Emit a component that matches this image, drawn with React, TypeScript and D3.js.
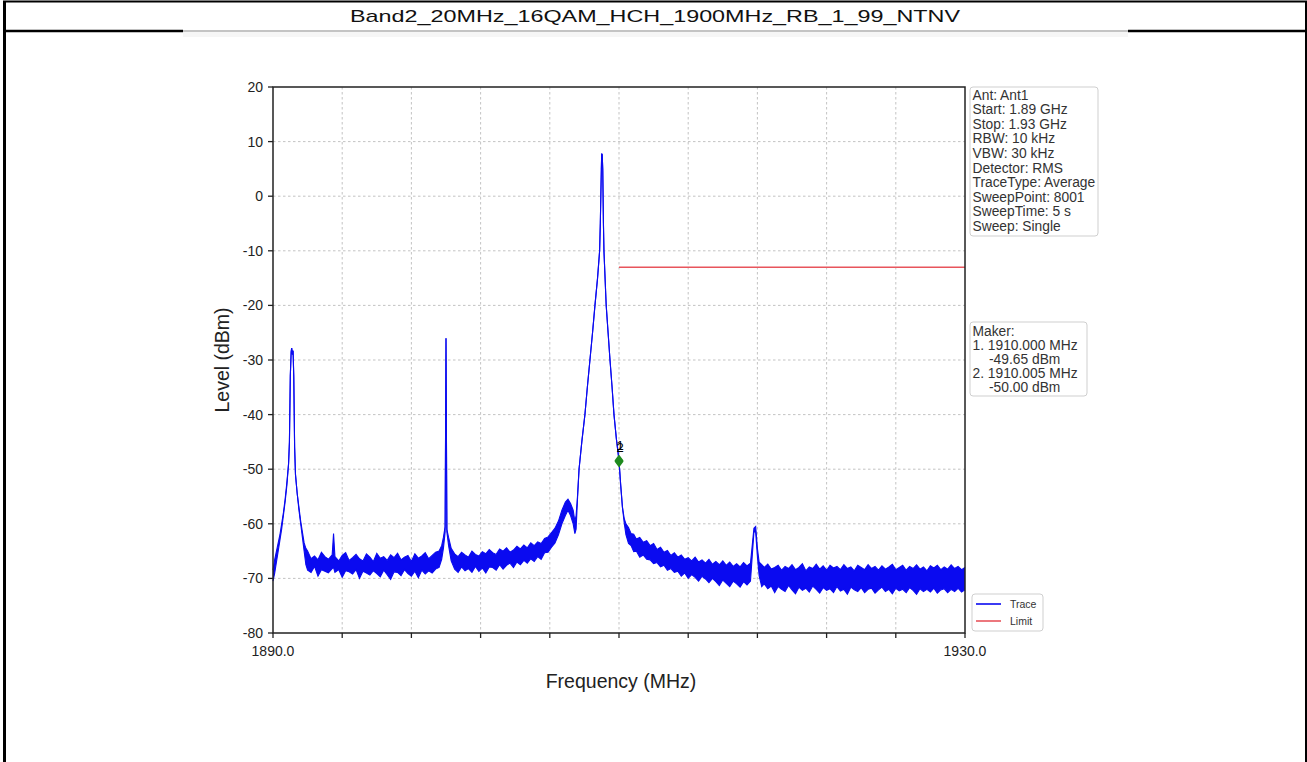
import React from "react";
import * as d3 from "d3";

const TITLE = "Band2_20MHz_16QAM_HCH_1900MHz_RB_1_99_NTNV";
const X_LABEL = "Frequency (MHz)";
const Y_LABEL = "Level (dBm)";
const X_DOMAIN = [1890, 1930];
const Y_DOMAIN = [-80, 20];
const X_GRID = [1890, 1894, 1898, 1902, 1906, 1910, 1914, 1918, 1922, 1926, 1930];
const X_TICK_LABELS = [
  { f: 1890, text: "1890.0" },
  { f: 1930, text: "1930.0" },
];
const Y_TICKS = [20, 10, 0, -10, -20, -30, -40, -50, -60, -70, -80];

const INFO_LINES = [
  "Ant: Ant1",
  "Start: 1.89 GHz",
  "Stop: 1.93 GHz",
  "RBW: 10 kHz",
  "VBW: 30 kHz",
  "Detector: RMS",
  "TraceType: Average",
  "SweepPoint: 8001",
  "SweepTime: 5 s",
  "Sweep: Single",
];
const MARKER_LINES = [
  { text: "Maker:", indent: false },
  { text: "1. 1910.000 MHz", indent: false },
  { text: "-49.65 dBm", indent: true },
  { text: "2. 1910.005 MHz", indent: false },
  { text: "-50.00 dBm", indent: true },
];

// limit line [freq, level]
const LIMIT: [number, number][] = [
  [1910, -13],
  [1930, -13],
];

const MARKERS = [
  { label: "1", f: 1910.0, level: -48.4 },
  { label: "2", f: 1910.005, level: -48.6 },
];

// trace envelope [freq MHz, upper dBm, lower dBm]
const TRACE: [number, number, number][] = [
  [1890.0, -68.5, -70.5],
  [1890.1, -66.5, -69.0],
  [1890.2, -65.0, -67.0],
  [1890.3, -63.5, -65.0],
  [1890.4, -62.0, -63.0],
  [1890.5, -60.0, -61.0],
  [1890.6, -58.0, -58.5],
  [1890.7, -55.5, -56.0],
  [1890.8, -52.5, -53.0],
  [1890.9, -49.0, -49.0],
  [1890.95, -45.0, -45.0],
  [1891.0, -33.0, -33.0],
  [1891.05, -28.5, -28.5],
  [1891.08, -27.8, -27.8],
  [1891.12, -29.0, -29.0],
  [1891.16, -28.3, -28.3],
  [1891.2, -33.0, -33.0],
  [1891.25, -46.0, -46.0],
  [1891.3, -51.0, -51.0],
  [1891.4, -54.5, -54.5],
  [1891.5, -57.0, -57.5],
  [1891.6, -59.5, -60.0],
  [1891.7, -61.5, -62.5],
  [1891.8, -63.5, -65.0],
  [1891.9, -64.5, -67.5],
  [1892.0, -65.0, -68.5],
  [1892.2, -66.4, -68.9],
  [1892.4, -65.9, -67.8],
  [1892.6, -66.6, -69.6],
  [1892.8, -65.2, -68.4],
  [1893.0, -66.0, -68.7],
  [1893.2, -66.5, -69.0],
  [1893.42, -65.7, -68.2],
  [1893.5, -61.8, -68.0],
  [1893.58, -66.0, -68.9],
  [1893.8, -66.8, -68.4],
  [1894.0, -65.8, -69.8],
  [1894.2, -65.3, -68.6],
  [1894.4, -66.7, -68.8],
  [1894.6, -66.2, -69.2],
  [1894.8, -65.6, -68.4],
  [1895.0, -66.4, -70.0],
  [1895.2, -66.8, -68.7],
  [1895.4, -65.5, -69.0],
  [1895.6, -66.1, -69.4],
  [1895.8, -66.9, -68.6],
  [1896.0, -65.4, -69.1],
  [1896.2, -66.3, -69.7],
  [1896.4, -66.0, -68.5],
  [1896.6, -66.7, -69.3],
  [1896.8, -65.7, -70.2],
  [1897.0, -66.2, -68.8],
  [1897.2, -65.4, -68.9],
  [1897.4, -66.6, -69.5],
  [1897.6, -66.1, -68.4],
  [1897.8, -65.8, -69.1],
  [1898.0, -66.9, -69.6],
  [1898.2, -65.5, -68.7],
  [1898.4, -66.3, -69.9],
  [1898.6, -65.9, -68.5],
  [1898.8, -65.3, -69.2],
  [1899.0, -66.4, -68.6],
  [1899.2, -65.8, -69.0],
  [1899.4, -65.2, -68.3],
  [1899.6, -65.0, -68.0],
  [1899.75, -64.0, -66.5],
  [1899.85, -62.5, -64.5],
  [1899.95, -60.5, -61.5],
  [1900.0, -26.0, -26.0],
  [1900.05, -61.0, -61.5],
  [1900.15, -62.5, -64.0],
  [1900.3, -64.5, -66.8],
  [1900.5, -65.5, -68.3],
  [1900.7, -66.0, -68.9],
  [1900.9, -65.2, -67.9],
  [1901.1, -65.7, -68.6],
  [1901.3, -66.1, -68.2],
  [1901.5, -65.0, -68.9],
  [1901.7, -65.6, -67.8],
  [1901.9, -65.9, -68.7],
  [1902.1, -65.1, -68.1],
  [1902.3, -65.5, -69.0],
  [1902.5, -64.7, -67.9],
  [1902.7, -65.3, -68.0],
  [1902.9, -65.6, -68.5],
  [1903.1, -64.6, -67.5],
  [1903.3, -65.0, -68.3],
  [1903.5, -64.4, -67.6],
  [1903.7, -65.2, -67.2],
  [1903.9, -64.8, -68.0],
  [1904.1, -64.1, -67.0],
  [1904.3, -64.6, -67.5],
  [1904.5, -63.9, -66.7],
  [1904.7, -64.4, -67.2],
  [1904.9, -63.5, -66.4],
  [1905.1, -64.0, -66.9],
  [1905.3, -63.3, -66.0],
  [1905.5, -63.6, -66.5],
  [1905.7, -62.7, -65.3],
  [1905.9, -62.4, -65.2],
  [1906.1, -61.6, -64.3],
  [1906.3, -60.8, -63.5],
  [1906.5, -59.5, -62.0],
  [1906.7, -57.5, -60.0],
  [1906.9, -56.0, -58.5],
  [1907.05, -55.5, -57.5],
  [1907.2, -56.3, -58.5],
  [1907.35, -57.5, -60.0],
  [1907.45, -59.5, -61.8],
  [1907.52, -58.5, -61.0],
  [1907.6, -55.0, -55.5],
  [1907.69, -50.0, -50.0],
  [1907.85, -45.0, -45.0],
  [1908.03, -40.0, -40.0],
  [1908.17, -35.0, -35.0],
  [1908.32, -30.0, -30.0],
  [1908.47, -25.0, -25.0],
  [1908.61, -20.0, -20.0],
  [1908.76, -15.0, -15.0],
  [1908.88, -10.0, -10.0],
  [1908.92, -5.0, -5.0],
  [1908.95, 0.0, 0.0],
  [1908.98, 5.0, 5.0],
  [1909.0, 7.8, 7.8],
  [1909.03, 7.6, 7.6],
  [1909.06, 5.0, 5.0],
  [1909.08, 0.0, 0.0],
  [1909.1, -5.0, -5.0],
  [1909.13, -10.0, -10.0],
  [1909.26, -20.0, -20.0],
  [1909.37, -25.0, -25.0],
  [1909.48, -30.0, -30.0],
  [1909.6, -35.0, -35.0],
  [1909.71, -40.0, -40.0],
  [1909.85, -44.5, -44.5],
  [1910.0, -48.4, -48.4],
  [1910.1, -53.0, -53.0],
  [1910.2, -57.0, -57.0],
  [1910.3, -59.0, -59.8],
  [1910.4, -60.0, -62.0],
  [1910.55, -60.7, -63.6],
  [1910.7, -61.8, -64.0],
  [1910.85, -61.9, -65.1],
  [1911.0, -62.8, -65.0],
  [1911.2, -62.5, -66.1],
  [1911.4, -63.4, -65.7],
  [1911.6, -63.1, -66.5],
  [1911.8, -64.0, -66.6],
  [1912.0, -63.6, -67.3],
  [1912.2, -64.7, -67.1],
  [1912.4, -64.3, -67.9],
  [1912.6, -65.2, -67.6],
  [1912.8, -64.9, -68.5],
  [1913.0, -65.8, -68.2],
  [1913.2, -65.3, -68.9],
  [1913.4, -66.1, -68.7],
  [1913.6, -65.7, -69.6],
  [1913.8, -66.5, -69.0],
  [1914.0, -66.2, -70.0],
  [1914.2, -66.8, -69.3],
  [1914.4, -66.1, -69.8],
  [1914.6, -67.0, -70.5],
  [1914.8, -66.6, -69.6],
  [1915.0, -67.2, -70.1],
  [1915.2, -66.5, -70.8],
  [1915.4, -67.4, -70.0],
  [1915.6, -66.9, -70.6],
  [1915.8, -67.5, -71.3],
  [1916.0, -66.8, -70.3],
  [1916.2, -67.6, -70.9],
  [1916.4, -67.0, -71.5],
  [1916.6, -67.8, -70.5],
  [1916.8, -67.3, -71.0],
  [1917.0, -67.9, -71.6],
  [1917.2, -67.1, -70.6],
  [1917.4, -67.7, -71.2],
  [1917.6, -67.2, -70.5],
  [1917.7, -64.0, -66.0],
  [1917.8, -60.8, -61.5],
  [1917.9, -60.5, -61.5],
  [1918.0, -64.5, -66.0],
  [1918.1, -67.0, -69.5],
  [1918.25, -67.5, -71.5],
  [1918.4, -68.0, -71.0],
  [1918.6, -67.4, -71.9],
  [1918.8, -68.3, -71.4],
  [1919.0, -68.0, -72.6],
  [1919.2, -67.6, -71.5],
  [1919.4, -68.5, -72.0],
  [1919.6, -67.8, -72.4],
  [1919.8, -68.2, -71.3],
  [1920.0, -67.5, -72.1],
  [1920.2, -68.4, -72.8],
  [1920.4, -68.0, -71.6],
  [1920.6, -67.3, -72.2],
  [1920.8, -68.6, -71.8],
  [1921.0, -67.9, -72.5],
  [1921.2, -68.2, -71.4],
  [1921.4, -67.4, -72.0],
  [1921.6, -68.3, -72.7],
  [1921.8, -67.7, -71.7],
  [1922.0, -68.5, -72.2],
  [1922.2, -67.6, -71.9],
  [1922.4, -68.1, -72.6],
  [1922.6, -67.8, -71.5],
  [1922.8, -68.4, -72.3],
  [1923.0, -67.5, -72.0],
  [1923.2, -68.2, -72.9],
  [1923.4, -67.9, -71.6],
  [1923.6, -68.6, -72.1],
  [1923.8, -67.6, -72.4],
  [1924.0, -68.0, -71.7],
  [1924.2, -68.4, -72.6],
  [1924.4, -67.5, -72.0],
  [1924.6, -68.2, -71.8],
  [1924.8, -67.8, -72.7],
  [1925.0, -68.5, -72.1],
  [1925.2, -67.7, -71.6],
  [1925.4, -68.3, -72.4],
  [1925.6, -67.9, -72.0],
  [1925.8, -67.4, -72.8],
  [1926.0, -68.4, -71.8],
  [1926.2, -68.0, -72.3],
  [1926.4, -67.6, -72.0],
  [1926.6, -68.5, -72.6],
  [1926.8, -67.8, -71.7],
  [1927.0, -68.2, -72.2],
  [1927.2, -67.5, -72.9],
  [1927.4, -68.3, -71.9],
  [1927.6, -67.9, -72.4],
  [1927.8, -68.6, -72.0],
  [1928.0, -67.7, -72.5],
  [1928.2, -68.1, -71.8],
  [1928.4, -67.6, -72.7],
  [1928.6, -68.4, -72.1],
  [1928.8, -67.9, -71.9],
  [1929.0, -68.3, -72.6],
  [1929.2, -67.5, -72.0],
  [1929.4, -68.2, -72.4],
  [1929.6, -67.8, -71.8],
  [1929.8, -68.4, -72.5],
  [1930.0, -68.0, -72.1],
];

const W = 1307;
const H = 762;
const PLOT = { left: 273, right: 965, top: 87, bottom: 633 };
const FONT = "'Liberation Sans', Arial, Helvetica, sans-serif";
const TRACE_COLOR = "#0a0af0";
const LIMIT_COLOR = "#e8555c";

export default function App() {
  const x = d3.scaleLinear().domain(X_DOMAIN).range([PLOT.left, PLOT.right]);
  const y = d3.scaleLinear().domain(Y_DOMAIN).range([PLOT.bottom, PLOT.top]);

  const area = d3
    .area<[number, number, number]>()
    .x((d) => x(d[0]))
    .y0((d) => y(d[2]))
    .y1((d) => y(d[1]));
  const upper = d3
    .line<[number, number, number]>()
    .x((d) => x(d[0]))
    .y((d) => y(d[1]));
  const lower = d3
    .line<[number, number, number]>()
    .x((d) => x(d[0]))
    .y((d) => y(d[2]));
  const limitLine = d3
    .line<[number, number]>()
    .x((d) => x(d[0]))
    .y((d) => y(d[1]));

  const infoStep = 14.6;
  const markerStep = 14;

  return (
    <svg
      width={W}
      height={H}
      style={{ position: "absolute", left: 0, top: 0, background: "#fff" }}
      fontFamily={FONT}
    >
      <rect x={0} y={0} width={W} height={H} fill="#fff" />
      {/* frame */}
      <line x1={4.5} y1={1} x2={4.5} y2={H} stroke="#000" strokeWidth={3} />
      <line x1={1306} y1={1} x2={1306} y2={H} stroke="#000" strokeWidth={2} />
      <line x1={3} y1={1.5} x2={W} y2={1.5} stroke="#000" strokeWidth={2} />
      <rect x={183} y={32} width={945} height={5} fill="#f6f6f6" />
      <line x1={3} y1={31} x2={183} y2={31} stroke="#000" strokeWidth={2.5} />
      <line x1={183} y1={31} x2={1128} y2={31} stroke="#8a8a8a" strokeWidth={1.2} />
      <line x1={1128} y1={31} x2={W} y2={31} stroke="#000" strokeWidth={2.5} />
      <text
        x={655}
        y={22}
        fontSize={17}
        textAnchor="middle"
        textLength={610}
        lengthAdjust="spacingAndGlyphs"
        fill="#111"
      >
        {TITLE}
      </text>

      {/* grid */}
      {X_GRID.filter((f) => f !== X_DOMAIN[0] && f !== X_DOMAIN[1]).map((f) => (
        <line
          key={"gx" + f}
          x1={x(f)}
          x2={x(f)}
          y1={PLOT.top}
          y2={PLOT.bottom}
          stroke="#b4b4b4"
          strokeWidth={0.8}
          strokeDasharray="2.5,2.5"
        />
      ))}
      {Y_TICKS.filter((v) => v !== Y_DOMAIN[0] && v !== Y_DOMAIN[1]).map((v) => (
        <line
          key={"gy" + v}
          x1={PLOT.left}
          x2={PLOT.right}
          y1={y(v)}
          y2={y(v)}
          stroke="#b4b4b4"
          strokeWidth={0.8}
          strokeDasharray="2.5,2.5"
        />
      ))}

      {/* trace */}
      <path d={area(TRACE) || ""} fill={TRACE_COLOR} stroke="none" />
      <path d={upper(TRACE) || ""} fill="none" stroke={TRACE_COLOR} strokeWidth={1.1} />
      <path d={lower(TRACE) || ""} fill="none" stroke={TRACE_COLOR} strokeWidth={1.1} />

      {/* limit */}
      <path d={limitLine(LIMIT) || ""} fill="none" stroke={LIMIT_COLOR} strokeWidth={1.6} />

      {/* markers */}
      {MARKERS.map((m) => (
        <g key={"m" + m.label}>
          <path
            d={`M${x(m.f)},${y(m.level) - 6} L${x(m.f) + 4.5},${y(m.level)} L${x(m.f)},${y(m.level) + 6} L${x(m.f) - 4.5},${y(m.level)} Z`}
            fill="#1f8a1f"
          />
          <text
            x={x(m.f) + 1}
            y={y(m.level) - 10}
            fontSize={13}
            textAnchor="middle"
            fill="#000"
          >
            {m.label}
          </text>
        </g>
      ))}

      {/* spines */}
      <rect
        x={PLOT.left}
        y={PLOT.top}
        width={PLOT.right - PLOT.left}
        height={PLOT.bottom - PLOT.top}
        fill="none"
        stroke="#222"
        strokeWidth={1.5}
      />

      {/* y ticks */}
      {Y_TICKS.map((v) => (
        <g key={"yt" + v}>
          <line x1={PLOT.left - 5} x2={PLOT.left} y1={y(v)} y2={y(v)} stroke="#222" strokeWidth={1.3} />
          <text x={PLOT.left - 10} y={y(v) + 5} fontSize={14} textAnchor="end" fill="#222">
            {v}
          </text>
        </g>
      ))}
      {/* x ticks */}
      {X_GRID.map((f) => (
        <line key={"xt" + f} x1={x(f)} x2={x(f)} y1={PLOT.bottom} y2={PLOT.bottom + 5} stroke="#222" strokeWidth={1.3} />
      ))}
      {X_TICK_LABELS.map((t) => (
        <text key={"xl" + t.f} x={x(t.f)} y={656} fontSize={14} textAnchor="middle" fill="#222">
          {t.text}
        </text>
      ))}

      {/* axis labels */}
      <text x={621} y={688} fontSize={19.5} textAnchor="middle" fill="#222">
        {X_LABEL}
      </text>
      <text
        transform="translate(229,360) rotate(-90)"
        fontSize={19.5}
        textAnchor="middle"
        fill="#222"
      >
        {Y_LABEL}
      </text>

      {/* info box */}
      <rect x={970} y={87} width={128} height={149} rx={3} fill="#fff" stroke="#cfcfcf" strokeWidth={1} />
      {INFO_LINES.map((t, i) => (
        <text key={"info" + i} x={972.5} y={99.5 + i * infoStep} fontSize={13.8} fill="#333">
          {t}
        </text>
      ))}

      {/* marker box */}
      <rect x={970} y={322} width={117} height={74} rx={3} fill="#fff" stroke="#cfcfcf" strokeWidth={1} />
      {MARKER_LINES.map((t, i) => (
        <text key={"mk" + i} x={t.indent ? 989 : 972.5} y={335.5 + i * markerStep} fontSize={13.8} fill="#333">
          {t.text}
        </text>
      ))}

      {/* legend */}
      <rect x={972} y={594} width={71} height={37} rx={3} fill="#fff" stroke="#cfcfcf" strokeWidth={1} />
      <line x1={976} x2={1001} y1={604} y2={604} stroke={TRACE_COLOR} strokeWidth={1.6} />
      <text x={1010} y={607.5} fontSize={10.5} fill="#333">Trace</text>
      <line x1={976} x2={1001} y1={621} y2={621} stroke={LIMIT_COLOR} strokeWidth={1.6} />
      <text x={1010} y={624.5} fontSize={10.5} fill="#333">Limit</text>
    </svg>
  );
}
